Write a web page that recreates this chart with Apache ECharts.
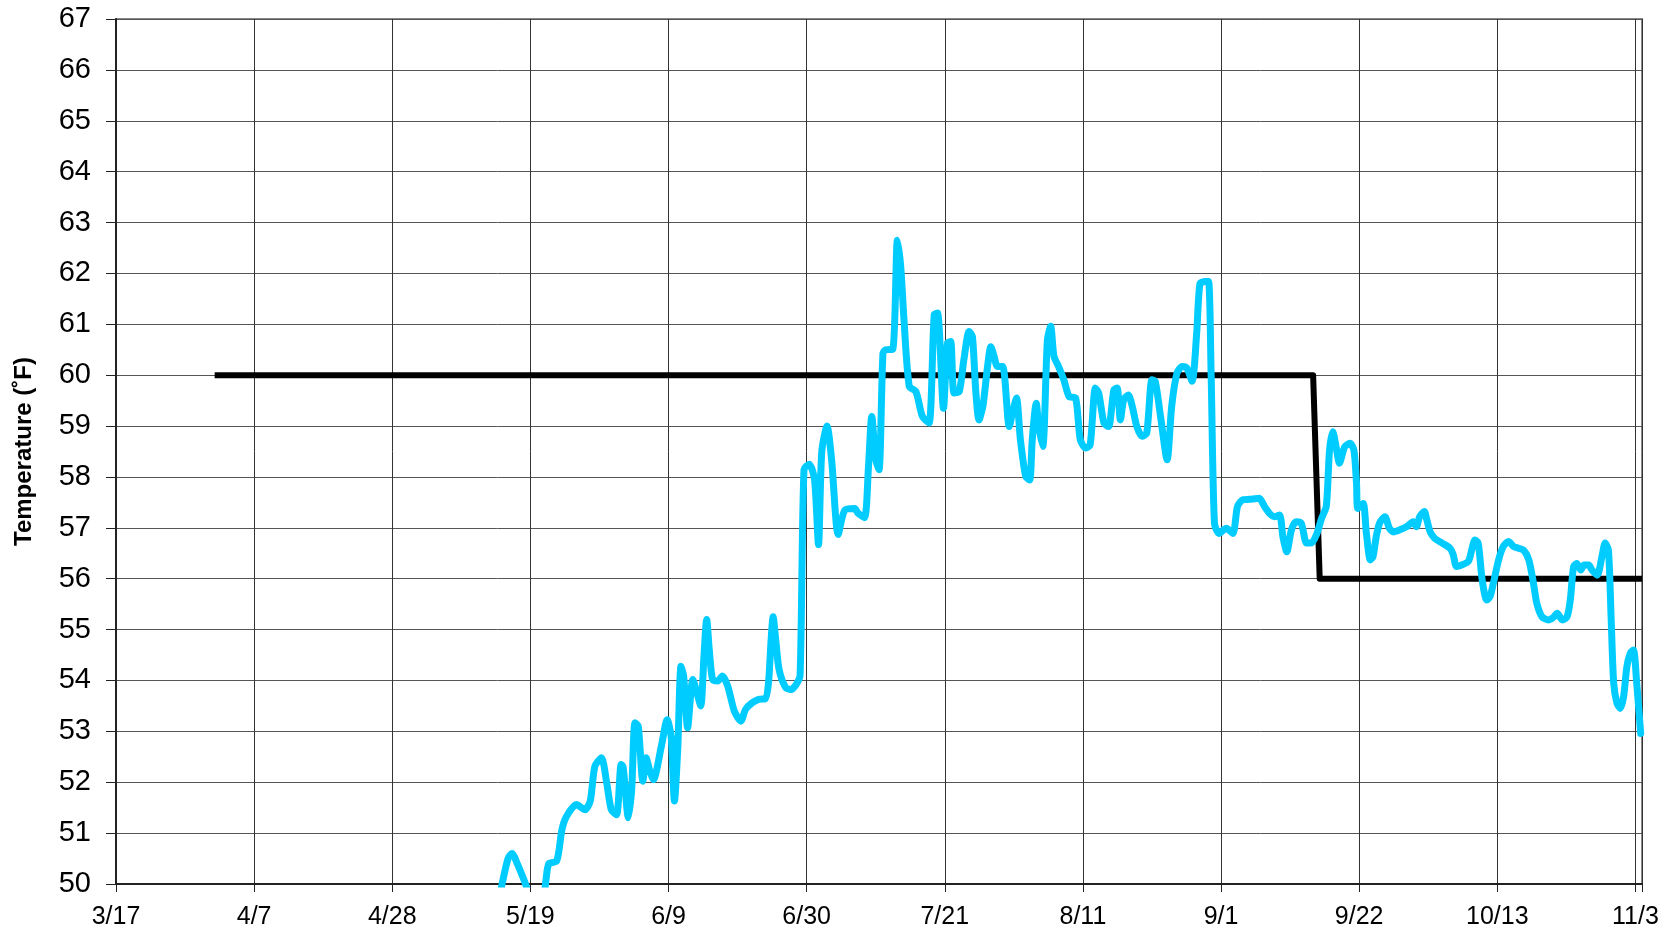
<!DOCTYPE html>
<html>
<head>
<meta charset="utf-8">
<script src="https://cdn.jsdelivr.net/npm/echarts@6/dist/echarts.min.js"></script>
<style>
html,body{margin:0;padding:0;background:#fff;}
#chart{width:1675px;height:936px;}
</style>
</head>
<body>
<div id="chart"></div>
<script>
// x values are days after 3/17
const xTickLabels = ['3/17','4/7','4/28','5/19','6/9','6/30','7/21','8/11','9/1','9/22','10/13','11/3'];

const tempDays = [57.5,58.7,59.6,60.2,61.0,62.5,63.2,64.5,65.3,65.8,67.0,67.8,68.5,70.0,71.3,72.1,72.8,73.8,74.6,75.3,76.1,76.8,77.1,77.9,78.4,78.9,79.4,80.1,80.6,81.1,81.7,82.9,83.8,84.4,84.9,85.4,85.9,86.3,86.9,87.7,88.4,88.9,89.4,89.8,90.2,90.7,91.5,92.2,93.0,94.0,95.0,95.7,96.7,97.7,98.7,99.2,99.6,99.9,100.3,100.8,101.8,102.6,103.4,104.0,104.6,105.4,106.2,106.8,107.3,108.1,108.8,109.8,110.8,112.3,112.8,113.8,114.4,114.9,115.5,116.0,116.6,117.0,118.1,118.8,119.3,119.8,120.6,121.6,122.6,123.6,124.4,124.9,125.8,126.4,126.9,127.4,128.2,128.9,129.7,130.2,130.7,131.2,131.8,132.5,133.0,133.5,134.0,134.8,135.8,136.3,136.9,137.5,138.3,138.9,139.3,139.9,140.3,140.9,141.6,142.1,142.6,143.3,144.1,144.9,145.9,146.6,147.4,148.1,148.9,149.4,150.2,150.9,151.7,152.2,152.7,153.2,153.9,154.5,155.2,156.0,156.7,157.5,158.0,158.8,159.8,160.5,161.3,162.1,162.8,163.6,164.3,164.8,165.6,166.1,166.5,167.0,167.7,168.8,169.8,170.5,171.3,172.3,173.8,174.6,175.4,176.1,176.9,177.4,178.0,178.7,179.4,180.2,181.0,181.7,182.5,183.3,184.0,184.5,185.0,185.5,186.0,186.8,187.6,188.2,188.6,188.8,189.6,190.1,190.7,191.1,191.6,192.1,192.9,193.6,194.2,195.2,196.2,197.2,197.7,198.2,198.9,199.3,199.8,200.5,201.6,202.8,203.3,203.8,204.6,205.6,206.1,206.6,207.1,207.7,208.4,208.9,209.4,210.2,210.9,211.7,212.5,213.2,214.0,214.8,215.5,216.0,216.8,217.8,218.6,219.1,219.9,220.6,221.1,221.6,222.1,222.7,223.2,223.9,224.4,225.2,225.9,226.4,226.9,227.3,227.7,228.2,228.7,229.2,229.7,230.2,230.7,231.2,231.8];
const tempValues = [49.2,50.0,50.5,50.6,50.4,49.9,49.3,49.3,50.0,50.4,50.45,51.07,51.33,51.56,51.46,51.63,52.31,52.48,51.99,51.46,51.36,52.35,52.3,51.30,51.86,53.17,53.1,52.02,52.48,52.25,52.05,52.7,53.23,52.9,51.63,52.64,54.28,54.09,53.07,54.02,53.72,53.5,54.5,55.2,54.6,54.02,53.99,54.09,53.89,53.4,53.2,53.43,53.56,53.63,53.64,53.95,54.8,55.25,54.8,54.22,53.86,53.82,53.92,54.1,58.15,58.25,57.95,56.67,58.5,59.0,58.33,56.87,57.35,57.38,57.29,57.2,58.2,59.19,58.34,58.14,60.43,60.5,60.51,62.65,62.14,61.09,59.78,59.68,59.19,59.06,61.19,61.22,59.35,60.63,60.66,59.65,59.68,60.3,60.86,60.76,59.71,59.12,59.39,60.17,60.56,60.37,60.17,60.17,58.99,59.26,59.55,58.73,58.01,57.94,58.73,59.45,58.99,58.6,60.69,60.96,60.37,60.17,59.91,59.58,59.55,58.73,58.57,58.63,59.75,59.65,59.06,58.99,59.71,59.75,59.12,59.52,59.61,59.39,58.99,58.8,58.86,59.91,59.88,59.19,58.34,59.39,60.04,60.17,60.14,59.88,60.83,61.8,61.84,61.84,59.97,57.09,56.89,56.99,56.89,57.42,57.55,57.56,57.58,57.42,57.28,57.22,57.25,56.83,56.53,56.96,57.12,57.09,56.7,56.7,56.86,57.19,57.42,58.53,58.89,58.59,58.27,58.59,58.66,58.53,57.87,57.38,57.48,56.89,56.37,56.43,56.83,57.09,57.22,56.99,56.92,56.96,57.02,57.12,57.02,57.22,57.32,57.15,56.92,56.79,56.7,56.6,56.47,56.24,56.27,56.34,56.56,56.76,56.7,55.98,55.58,55.65,55.91,56.37,56.63,56.73,56.63,56.6,56.56,56.37,55.91,55.52,55.25,55.19,55.25,55.32,55.19,55.25,55.58,56.24,56.3,56.17,56.27,56.27,56.17,56.07,56.43,56.7,56.56,55.25,53.94,53.55,53.45,53.68,54.27,54.53,54.6,53.94,52.96];

const setpointDays = [15, 182, 183, 232];
const setpointValues = [60, 60, 56, 56];

const tempData = tempDays.map((d, i) => [d, tempValues[i]]);
const setpointData = setpointDays.map((d, i) => [d, setpointValues[i]]);

const chart = echarts.init(document.getElementById('chart'), null, {renderer: 'canvas'});
chart.setOption({
  animation: false,
  backgroundColor: '#fff',
  grid: {left: 116, right: 33, top: 19, bottom: 52, show: true, borderColor: '#888', borderWidth: 2, containLabel: false},
  xAxis: {
    type: 'value', min: 0, max: 232, interval: 21,
    axisLine: {show: true, onZero: false, lineStyle: {color: '#222', width: 2}},
    axisTick: {show: true, length: 8, lineStyle: {color: '#222', width: 1}},
    axisLabel: {
      margin: 21, fontFamily: 'Liberation Sans, Arial, sans-serif', fontSize: 25, color: '#000',
      formatter: v => (v % 21 === 0 ? xTickLabels[v / 21] : '')
    },
    splitLine: {show: true, lineStyle: {color: '#333', width: 1}}
  },
  yAxis: {
    type: 'value', min: 50, max: 67, interval: 1,
    name: 'Temperature (˚F)', nameLocation: 'middle', nameGap: 80, nameRotate: 90,
    nameTextStyle: {fontFamily: 'Liberation Sans, Arial, sans-serif', fontSize: 24, fontWeight: 'bold', color: '#000'},
    axisLine: {show: true, lineStyle: {color: '#222', width: 2}},
    axisTick: {show: true, length: 10, lineStyle: {color: '#222', width: 1}},
    axisLabel: {margin: 25, fontFamily: 'Liberation Sans, Arial, sans-serif', fontSize: 29, color: '#000'},
    splitLine: {show: true, lineStyle: {color: '#555', width: 1}}
  },
  series: [
    {
      type: 'line', data: setpointData, showSymbol: false, symbol: 'none', clip: true,
      lineStyle: {color: '#000', width: 6, join: 'round'}, z: 2
    },
    {
      type: 'line', data: tempData, showSymbol: false, symbol: 'none', clip: true, smooth: 0.25,
      lineStyle: {color: '#00CCFF', width: 7, join: 'round', cap: 'round'}, z: 3
    }
  ]
});
</script>
</body>
</html>
